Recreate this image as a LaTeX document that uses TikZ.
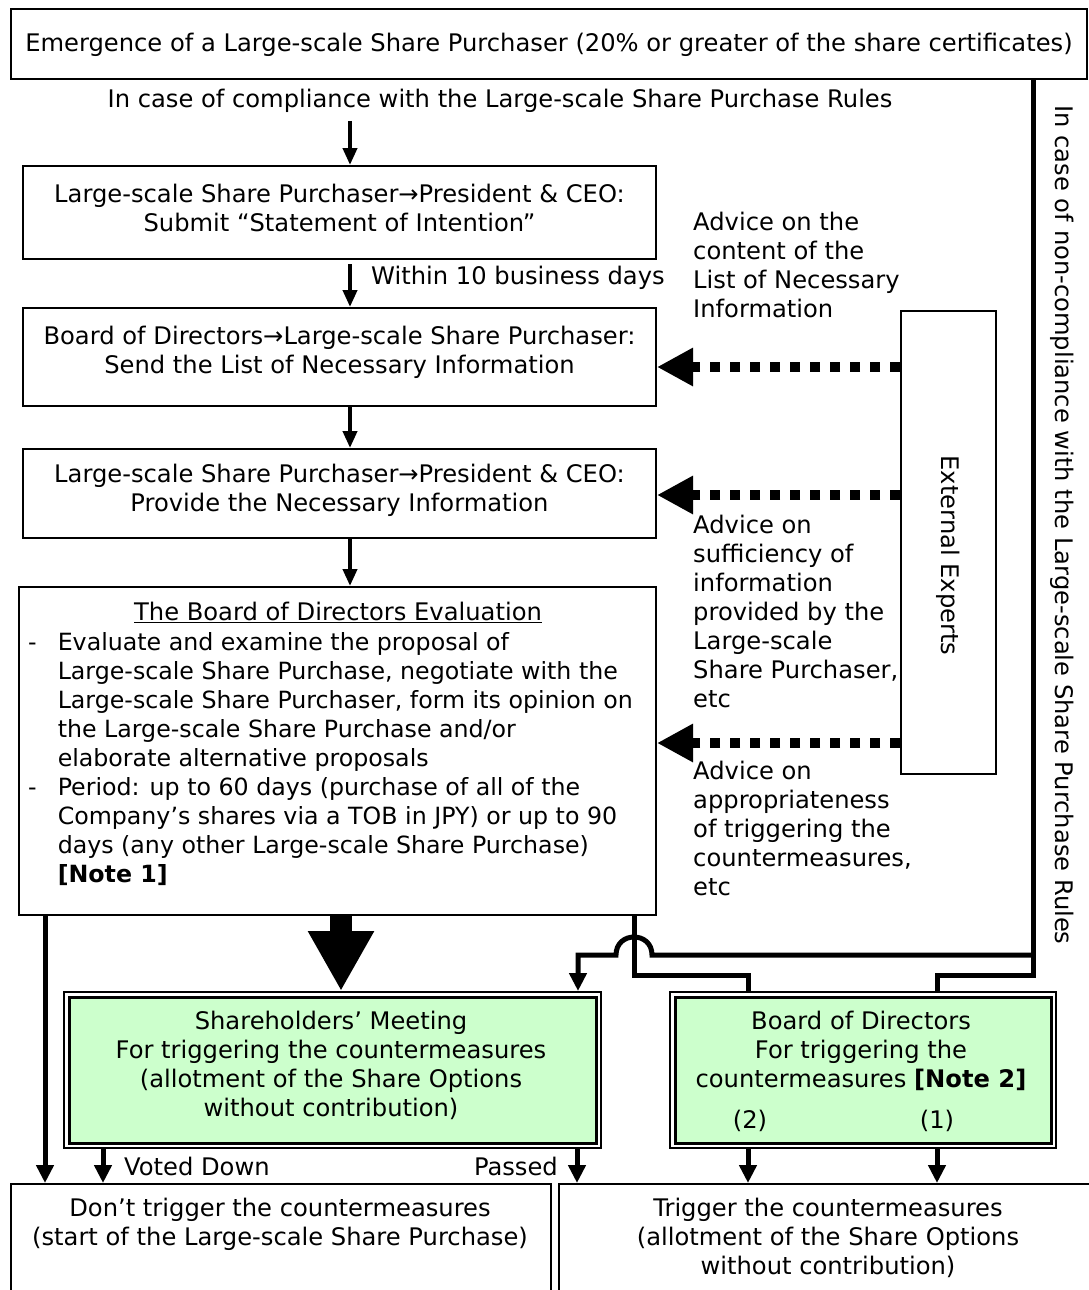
\documentclass[tikz,border=0pt]{standalone}
\usepackage{fontspec}
\setmainfont{DejaVu Sans}
\newfontfamily\condf{DejaVu Sans}
\usetikzlibrary{arrows.meta,calc}
\definecolor{lgreen}{HTML}{CCFFCC}
\newcommand{\fsz}{\fontsize{24.2}{29}\selectfont}
\newcommand{\fsze}{\fontsize{23.7}{29}\selectfont}
\begin{document}
\begin{tikzpicture}[x=1pt,y=-1pt,
  boxc/.style={draw,line width=2pt,anchor=north west,inner sep=0pt,align=center,font=\condf\fsz},
  boxw/.style={draw,line width=2pt,anchor=north west,inner sep=0pt,align=center,font=\fsz},
  gout/.style={draw,line width=1.6pt,anchor=north west,inner sep=0pt,fill=white},
  gin/.style={draw,line width=3pt,anchor=north west,inner sep=0pt,fill=lgreen,align=center,font=\fsz},
  lbl/.style={inner sep=0pt,font=\fsz},
  lblc/.style={inner sep=0pt,font=\condf\fsz},
  sarr/.style={line width=4pt,-{Triangle[length=17pt,width=14pt]}},
  barr/.style={line width=5pt,-{Triangle[length=18pt,width=17pt]}},
  conn/.style={line width=5pt},
  dotarr/.style={line width=10pt,dash pattern=on 10pt off 10pt,-{Triangle[length=36pt,width=36pt]}}
]
\useasboundingbox (0,0) rectangle (1088,1290);

% top box
\node[boxc,minimum width=1076pt,minimum height=70pt] (top) at (10,8) {};
\node[lblc] (topt) at ([yshift=-1pt]top.center)
  {Emergence of a Large-scale Share Purchaser (20\% or greater of the share certificates)};
\node[lblc] (comp) at (500,101) {In case of compliance with the Large-scale Share Purchase Rules};

% left column boxes
\node[boxc,minimum width=633pt,minimum height=93pt] (b1) at (22,165) {};
\node[lblc,align=center] (b1t) at ([yshift=5pt]b1.center)
  {Large-scale Share Purchaser→President \& CEO:\\Submit “Statement of Intention”};
\node[boxc,minimum width=633pt,minimum height=98pt] (b2) at (22,307) {};
\node[lblc,align=center] (b2t) at ([yshift=5pt]b2.center)
  {Board of Directors→Large-scale Share Purchaser:\\Send the List of Necessary Information};
\node[boxc,minimum width=633pt,minimum height=89pt] (b3) at (22,448) {};
\node[lblc,align=center] (b3t) at ([yshift=3pt]b3.center)
  {Large-scale Share Purchaser→President \& CEO:\\Provide the Necessary Information};
\node[boxc,minimum width=637pt,minimum height=328pt] (ev) at (18,586) {};
\node[lblc,anchor=base] (evtitle) at (338,620) {\underline{The Board of Directors Evaluation}};
\node[inner sep=0pt,font=\condf\fsze,anchor=north west] (evtext) at (28,630) {\begin{tabular}{@{}l@{\hspace{21pt}}l@{}}
- & Evaluate and examine the proposal of\\
  & Large-scale Share Purchase, negotiate with the\\
  & Large-scale Share Purchaser, form its opinion on\\
  & the Large-scale Share Purchase and/or\\
  & elaborate alternative proposals\\
- & Period: up to 60 days (purchase of all of the\\
  & Company’s shares via a TOB in JPY) or up to 90\\
  & days (any other Large-scale Share Purchase)\\
  & \textbf{[Note 1]}
\end{tabular}};

% column arrows
\draw[sarr] (comp.south -| 350,0) ++(0,8) -- (b1.north -| 350,0);
\draw[sarr] (b1.south -| 350,0) ++(0,4) -- (b2.north -| 350,0);
\node[lbl,anchor=west] (within) at (371,278) {Within 10 business days};
\draw[sarr] (b2.south -| 350,0) -- (b3.north -| 350,0);
\draw[sarr] (b3.south -| 350,0) -- (ev.north -| 350,0);

% external experts
\node[boxw,minimum width=95pt,minimum height=463pt] (ext) at (900,310) {};
\node[lbl,rotate=-90] (extt) at ([yshift=-13pt]ext.center) {External Experts};
\draw[dotarr] (ext.west |- 0,367) -- (b2.east |- 0,367);
\draw[dotarr] (ext.west |- 0,495) -- (b3.east |- 0,495);
\draw[dotarr] (ext.west |- 0,743) -- (ev.east |- 0,743);

\node[lbl,anchor=north west,align=left] (adv1) at (693,212)
  {Advice on the\\content of the\\List of Necessary\\Information};
\node[lbl,anchor=north west,align=left] (adv2) at (693,515)
  {Advice on\\sufficiency of\\information\\provided by the\\Large-scale\\Share Purchaser,\\etc};
\node[lbl,anchor=north west,align=left] (adv3) at (693,761)
  {Advice on\\appropriateness\\of triggering the\\countermeasures,\\etc};

% non-compliance label
\node[lbl,rotate=-90] (noncomp) at (1062,525)
  {In case of non-compliance with the Large-scale Share Purchase Rules};

% green boxes
\node[gout,minimum width=537pt,minimum height=156pt] (smo) at (63,991) {};
\node[gin,minimum width=527pt,minimum height=146pt] (sm) at (68,996) {};
\node[lbl,anchor=north,align=center] (smt) at (331,1011)
  {Shareholders’ Meeting\\For triggering the countermeasures\\(allotment of the Share Options\\without contribution)};
\node[gout,minimum width=386pt,minimum height=156pt] (bodo) at (669,991) {};
\node[gin,minimum width=376pt,minimum height=146pt] (bod) at (674,996) {};
\node[lbl,anchor=north,align=center] (bodt) at (861,1011)
  {Board of Directors\\For triggering the\\countermeasures \textbf{[Note 2]}};
\node[lbl] (n2) at (750,1121) {(2)};
\node[lbl] (n1) at (937,1121) {(1)};

% big arrow
\draw[line width=22pt,-{Triangle[length=60pt,width=62pt]}] (ev.south -| 341,0) -- (smo.north -| 341,0);

% bottom boxes
\node[boxw,minimum width=540pt,minimum height=117pt] (bl) at (10,1183) {};
\node[lbl,anchor=north,align=center] (blt) at (280,1198)
  {Don’t trigger the countermeasures\\(start of the Large-scale Share Purchase)};
\node[boxw,minimum width=532pt,minimum height=117pt] (br) at (558,1183) {};
\node[lbl,anchor=north,align=center] (brt) at (828,1198)
  {Trigger the countermeasures\\(allotment of the Share Options\\without contribution)};

% connectors to bottom
\draw[barr] (ev.south -| 45,0) -- (bl.north -| 45,0);
\draw[barr] (smo.south -| 103,0) -- (bl.north -| 103,0);
\node[lbl,anchor=base west] (vd) at (124,1175) {Voted Down};
\draw[barr] (smo.south -| 577,0) -- (br.north -| 577,0);
\node[lbl,anchor=base east] (ps) at (558,1175) {Passed};
\draw[barr] (bodo.south -| 748,0) -- (br.north -| 748,0);
\draw[barr] (bodo.south -| 937,0) -- (br.north -| 937,0);

% right-side routing
\coordinate (jA) at (1033,955);
\draw[conn] (top.south -| 1033,0) |- (937,975) -- (bodo.north -| 937,0);
\draw[conn] (ev.south -| 634,0) |- (748,975) -- (bodo.north -| 748,0);
\draw[conn,-{Triangle[length=18pt,width=17pt]}] (jA) -- (652,955)
  .. controls (652,931) and (616,931) .. (616,955) -- (578,955) -- (smo.north -| 578,0);
\end{tikzpicture}
\end{document}
